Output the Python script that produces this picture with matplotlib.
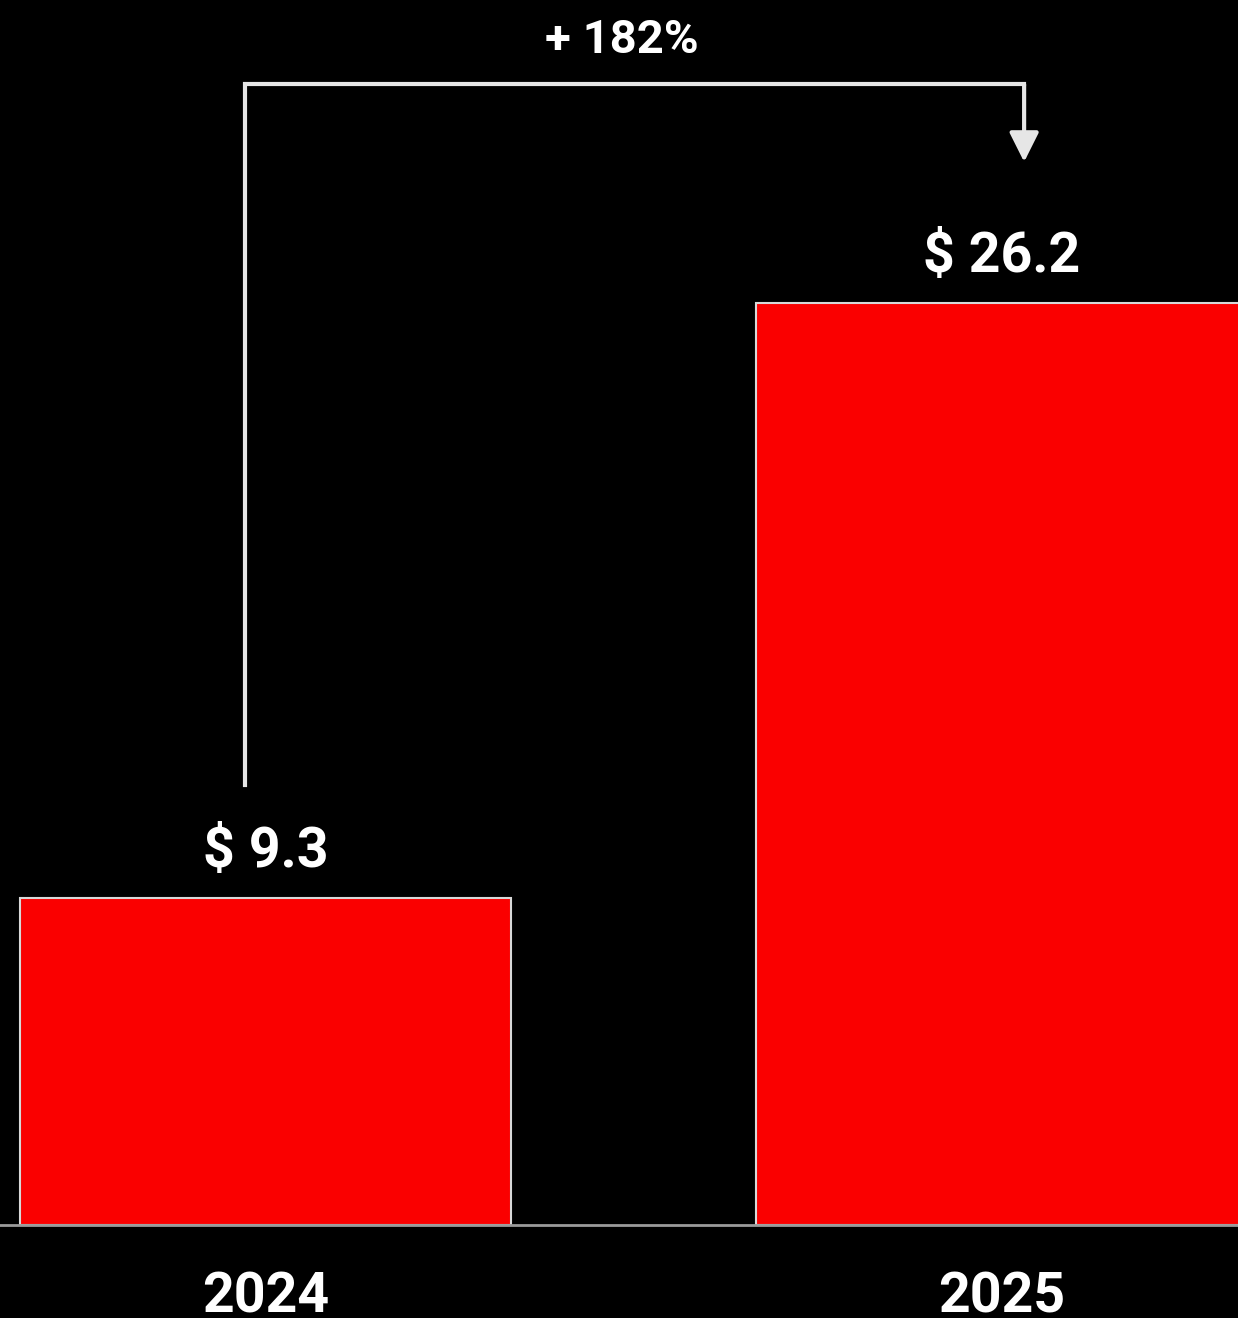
import numpy as np
import matplotlib
matplotlib.use('Agg')
import matplotlib.pyplot as plt

years = ['2024', '2025']
values = [9.3, 26.2]
growth = '+ 182%'

plt.rcParams['font.family'] = ['Roboto', 'DejaVu Sans']

fig = plt.figure(figsize=(12.38, 13.18), dpi=100, facecolor='black')
ax = fig.add_axes([0, 0, 1, 1])
ax.set_facecolor('black')

x = np.arange(len(years))
ax.bar(x, values, width=0.667, color='#fa0000', edgecolor='#d8d8d8', linewidth=1.5, zorder=2)
ax.axhline(0, color='#9a9a9a', lw=2, zorder=3)

for xi, v in zip(x, values):
    ax.text(xi, v + 0.87, f'$ {v}', ha='center', va='baseline',
            color='white', fontsize=40, fontweight='bold')
for xi, yr in zip(x, years):
    ax.text(xi, -2.49, yr, ha='center', va='baseline',
            color='white', fontsize=40, fontweight='bold')

# bracket with arrow
lx, rx = x[0] - 0.028, x[1] + 0.030
top = max(values) + 6.2
ax.plot([lx, lx, rx], [values[0] + 3.2, top, top], color='#e6e6e6', lw=3,
        solid_joinstyle='miter', zorder=4)
ax.annotate('', xy=(rx, values[1] + 4.0), xytext=(rx, top),
            arrowprops=dict(arrowstyle='-|>,head_length=0.6,head_width=0.3',
                            color='#e6e6e6', lw=3, mutation_scale=30,
                            shrinkA=0, shrinkB=0), zorder=4)
ax.text(0.484, top + 0.9, growth, ha='center', va='baseline',
        color='white', fontsize=34, fontweight='bold')

ax.set_xlim(-0.3605, 1.3204)
ax.set_ylim(-2.64, 34.8)
ax.axis('off')

fig.savefig('out.png', dpi=100, facecolor='black')
